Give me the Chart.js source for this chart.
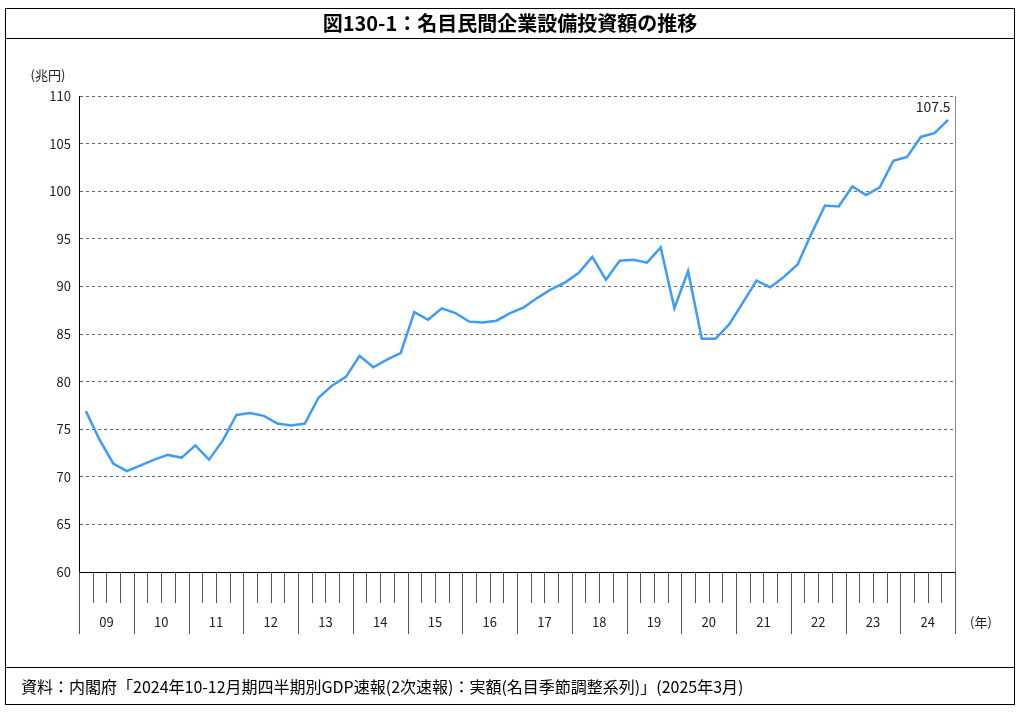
<!DOCTYPE html>
<html><head><meta charset="utf-8">
<script src="https://cdn.jsdelivr.net/npm/chart.js@4"></script>
<style>
body{margin:0;background:#fff;font-family:"Noto Sans CJK JP",sans-serif;}
#wrap{position:relative;width:1024px;height:716px;}
#frame{position:absolute;left:5px;top:8px;width:1010px;height:697px;border:1px solid #000;box-sizing:border-box;pointer-events:none;}
#title{position:absolute;left:5px;top:8px;width:1010px;height:31px;border-bottom:1px solid #000;box-sizing:border-box;text-align:center;font-size:20px;font-weight:bold;line-height:30px;}
#src{position:absolute;left:5px;top:667px;width:1010px;height:38px;border-top:1px solid #000;box-sizing:border-box;font-size:16px;line-height:36px;padding-left:16px;}
canvas{position:absolute;left:0;top:0;}
</style></head><body>
<div id="wrap">
<canvas id="c" width="1024" height="716"></canvas>
<div id="frame"></div>
<div id="title">図130-1：名目民間企業設備投資額の推移</div>
<div id="src">資料：内閣府「2024年10-12月期四半期別GDP速報(2次速報)：実額(名目季節調整系列)」(2025年3月)</div>
</div>
<script>
const years = ["09","10","11","12","13","14","15","16","17","18","19","20","21","22","23","24"];
const quarters = ["Q1","Q2","Q3","Q4"];
const values = [
 76.9,73.9,71.4,70.6,
 71.2,71.8,72.3,72.0,
 73.3,71.8,73.8,76.5,
 76.7,76.4,75.6,75.4,
 75.6,78.3,79.6,80.5,
 82.7,81.5,82.3,83.0,
 87.3,86.5,87.7,87.2,
 86.3,86.2,86.4,87.2,
 87.8,88.8,89.7,90.4,
 91.4,93.1,90.7,92.7,
 92.8,92.5,94.1,87.7,
 91.6,84.5,84.5,86.0,
 88.3,90.6,89.9,91.0,
 92.3,95.5,98.5,98.4,
 100.5,99.6,100.4,103.2,
 103.6,105.7,106.1,107.5
];
const labels = [];
years.forEach(y=>quarters.forEach(q=>labels.push(y+q)));
const font = "Noto Sans CJK JP";
const deco = {
 id:'deco',
 afterDraw(chart){
  const ctx=chart.ctx, x=chart.scales.x, a=chart.chartArea;
  const n=labels.length, step=(a.right-a.left)/n;
  ctx.save();
  ctx.strokeStyle='#000';ctx.lineWidth=1;
  ctx.beginPath();ctx.moveTo(a.left,a.bottom+0.5);ctx.lineTo(a.right,a.bottom+0.5);ctx.stroke();
  ctx.strokeStyle='#888';
  ctx.beginPath();ctx.moveTo(a.right+0.5,a.top);ctx.lineTo(a.right+0.5,a.bottom);ctx.stroke();
  ctx.strokeStyle='#555';
  for(let i=0;i<=n;i++){
   const px=Math.round(x.getPixelForValue(Math.min(i,n-1))+(i===n?step/2:-step/2))+0.5;
   ctx.beginPath();ctx.moveTo(px,a.bottom);ctx.lineTo(px,i%4===0?a.bottom+62:a.bottom+31);ctx.stroke();
  }
  ctx.fillStyle='#222';ctx.font='13px "'+font+'"';ctx.textAlign='center';ctx.textBaseline='middle';
  years.forEach((y,k)=>{
   const c=(x.getPixelForValue(k*4+1)+x.getPixelForValue(k*4+2))/2;
   ctx.fillText(y,c,a.bottom+50);
  });
  ctx.fillText('(年)',a.right+26,a.bottom+50);
  ctx.fillText('(兆円)',48,75);
  const last=values.length-1;
  ctx.font='14px "'+font+'"';
  ctx.fillText(values[last].toFixed(1),x.getPixelForValue(last)-15,chart.scales.y.getPixelForValue(values[last])-13);
  ctx.restore();
 }
};
new Chart(document.getElementById('c'),{
 type:'line',
 data:{labels,datasets:[{data:values,borderColor:'#3d9bff',borderWidth:2.5,pointRadius:0,tension:0,fill:false}]},
 options:{
  responsive:false,animation:false,
  layout:{padding:{left:0,right:69,top:96,bottom:0}},
  plugins:{legend:{display:false},tooltip:{enabled:false}},
  scales:{
   x:{offset:true,ticks:{display:false},grid:{display:false},border:{display:false},
      afterFit(s){s.height=144;}},
   y:{min:60,max:110,ticks:{stepSize:5,color:'#222',font:{family:font,size:13},padding:8},
      grid:{color:'#666',lineWidth:1,tickLength:0,drawTicks:false},
      border:{display:true,color:'#000',dash:[3,3]},
      afterFit(s){s.width=79;}}
  }
 },
 plugins:[deco,{id:'axisline',afterDraw(chart){const c=chart.ctx,a=chart.chartArea;c.save();c.strokeStyle='#000';c.beginPath();c.moveTo(a.left+0.5,a.top);c.lineTo(a.left+0.5,a.bottom);c.stroke();c.restore();}}]
});
</script>
</body></html>
